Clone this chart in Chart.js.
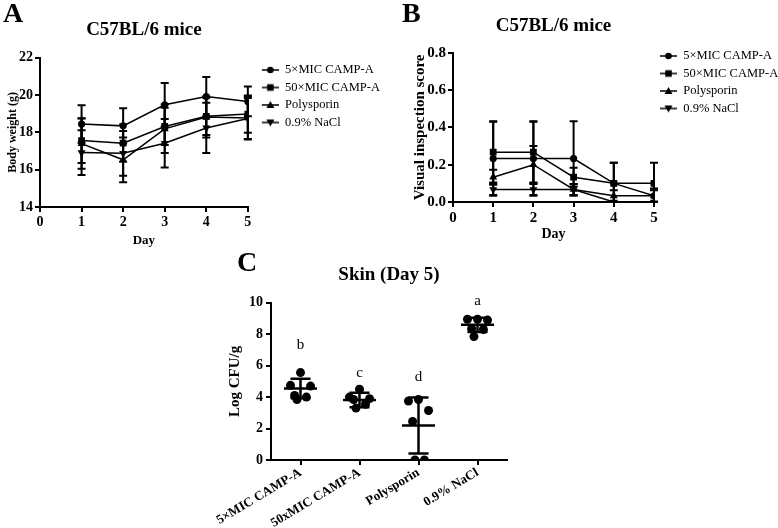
<!DOCTYPE html>
<html>
<head>
<meta charset="utf-8">
<script src="https://cdn.jsdelivr.net/npm/chart.js@4.4.0/dist/chart.umd.min.js"></script>
<style>
  body { margin: 0; background: #fff; }
  #fig { position: relative; width: 778px; height: 528px; overflow: hidden; }
  .panel { position: absolute; }
  .tag { position: absolute; font: bold 28px 'Liberation Serif', serif; color: #000; line-height: 32px; }
</style>
</head>
<body>
<div id="fig">
  <div class="panel" style="left:0;top:0;width:390px;height:255px"><canvas id="chartA"></canvas></div>
  <div class="panel" style="left:390px;top:0;width:388px;height:255px"><canvas id="chartB"></canvas></div>
  <div class="panel" style="left:180px;top:248px;width:340px;height:280px"><canvas id="chartC"></canvas></div>
  <div class="tag" style="left:3px;top:-3px">A</div>
  <div class="tag" style="left:402px;top:-3px">B</div>
  <div class="tag" style="left:237px;top:246px">C</div>
</div>
<script>
// ---- data ----
const days = [1, 2, 3, 4, 5];
const groups = ['5×MIC CAMP-A', '50×MIC CAMP-A', 'Polysporin', '0.9% NaCl'];
const skinTicks = ['5×MIC CAMP-A', '50xMIC CAMP-A', 'Polysporin', '0.9% NaCl'];

// A: body weight (g), mean and SD per day
const weight = [
  [18.45, 18.35, 19.48, 19.92, 19.66],
  [17.56, 17.42, 18.32, 18.86, 18.98],
  [17.40, 16.53, 18.19, 18.82, 18.77],
  [16.92, 16.88, 17.42, 18.24, 18.74]
];
const weightSd = [
  [1.00, 0.95, 1.17, 1.05, 0.80],
  [1.20, 1.00, 1.00, 1.00, 1.00],
  [1.35, 1.20, 1.30, 1.10, 1.15],
  [1.20, 1.20, 1.30, 1.35, 1.10]
];

// B: visual inspection score
const score = [
  [0.233, 0.233, 0.233, 0.100, 0.033],
  [0.267, 0.267, 0.133, 0.100, 0.100],
  [0.133, 0.200, 0.067, 0.033, 0.033],
  [0.067, 0.067, 0.067, 0.000, 0.000]
];
const scoreSd = [
  [0.200, 0.200, 0.200, 0.110, 0.040],
  [0.163, 0.163, 0.050, 0.110, 0.110],
  [0.040, 0.100, 0.030, 0.030, 0.030],
  [0.030, 0.030, 0.030, 0.000, 0.000]
];

// C: skin log CFU/g at day 5
const cfu = [
  [5.56, 4.75, 4.70, 4.10, 4.00, 3.85],
  [4.50, 4.00, 3.90, 3.85, 3.55, 3.30],
  [3.85, 3.75, 3.15, 2.45, 0.00, 0.00],
  [8.95, 8.95, 8.90, 8.35, 8.30, 7.85]
];
const cfuMean = [4.55, 3.82, 2.20, 8.60];
const cfuSd = [0.62, 0.46, 1.78, 0.45];
const sigLetters = ['b', 'c', 'd', 'a'];
const sigAt = [7.3, 5.5, 5.3, 10.1];
const swarm = [0, -0.17, 0.17, -0.1, 0.1, -0.06];

// ---- style ----
const serif = "'Liberation Serif', 'Times New Roman', serif";
Chart.defaults.font.family = serif;
Chart.defaults.color = '#000';
Chart.defaults.animation = false;

const markers = ['circle', 'rect', 'triangle', 'triangle'];
const turns = [0, 0, 0, 180];
const radii = [3.6, 4.8, 4.6, 4.6];

// legend symbol: short line with the series marker, drawn after an empty lead-in
function legendIcon(i, lead) {
  const c = document.createElement('canvas');
  c.width = lead + 17; c.height = 12;
  const g = c.getContext('2d');
  const m = lead + 8.5;
  g.strokeStyle = '#000'; g.fillStyle = '#000'; g.lineWidth = 1.5;
  g.beginPath(); g.moveTo(lead, 6); g.lineTo(lead + 17, 6); g.stroke();
  g.beginPath();
  if (i === 0) g.arc(m, 6, 3.3, 0, Math.PI * 2);
  else if (i === 1) g.rect(m - 3.3, 2.7, 6.6, 6.6);
  else if (i === 2) { g.moveTo(m, 2); g.lineTo(m + 4, 9); g.lineTo(m - 4, 9); g.closePath(); }
  else { g.moveTo(m, 10); g.lineTo(m + 4, 3); g.lineTo(m - 4, 3); g.closePath(); }
  g.fill();
  return c;
}

const errorBars = {
  id: 'errorBars',
  beforeDatasetsDraw(chart) {
    const { ctx, scales: { x, y } } = chart;
    ctx.save();
    ctx.strokeStyle = '#000';
    ctx.lineWidth = 2;
    chart.data.datasets.forEach(ds => {
      if (!ds.errors) return;
      ds.data.forEach((p, j) => {
        const e = ds.errors[j];
        if (!e) return;
        const px = x.getPixelForValue(p.x);
        const t = y.getPixelForValue(p.y + e);
        const b = y.getPixelForValue(Math.max(p.y - e, y.min));
        ctx.beginPath();
        ctx.moveTo(px, t); ctx.lineTo(px, b);
        ctx.moveTo(px - 4, t); ctx.lineTo(px + 4, t);
        ctx.moveTo(px - 4, b); ctx.lineTo(px + 4, b);
        ctx.stroke();
      });
    });
    ctx.restore();
  }
};

function lineSets(values, errs) {
  return groups.map((g, i) => ({
    label: g,
    data: days.map((d, j) => ({ x: d, y: values[i][j] })),
    errors: errs[i],
    borderColor: '#000',
    backgroundColor: '#000',
    borderWidth: 1.5,
    pointStyle: markers[i],
    pointRotation: turns[i],
    pointRadius: radii[i],
    pointBorderWidth: 0,
    pointBackgroundColor: '#000',
    tension: 0
  }));
}

function axisLook(extra) {
  return Object.assign({
    grid: { display: true, drawOnChartArea: false, drawTicks: true, tickLength: 5, color: '#000', lineWidth: 2 },
    border: { color: '#000', width: 2 }
  }, extra);
}

function legendOpts(width, lead, drop) {
  const icons = groups.map((g, i) => legendIcon(i, lead));
  return {
    position: 'right',
    align: 'start',
    maxWidth: width,
    title: { display: true, text: '', font: { size: 10 }, padding: { top: drop, bottom: 0 } },
    labels: {
      usePointStyle: true,
      pointStyleWidth: lead + 17,
      boxHeight: 12,
      padding: 5,
      font: { size: 12.5 },
      generateLabels(chart) {
        return chart.data.datasets.map((ds, i) => ({
          text: ds.label, pointStyle: icons[i], datasetIndex: i,
          fillStyle: '#000', strokeStyle: '#000', lineWidth: 0, fontColor: '#000', hidden: false
        }));
      }
    }
  };
}

// ---- A ----
new Chart(document.getElementById('chartA'), {
  type: 'line',
  data: { datasets: lineSets(weight, weightSd) },
  options: {
    maintainAspectRatio: false,
    layout: { padding: 0 },
    plugins: {
      legend: legendOpts(144, 9, 46.75),
      title: { display: true, text: 'C57BL/6 mice', fullSize: false, font: { size: 19, weight: 'bold' }, padding: { top: 19, bottom: 16 } },
      tooltip: { enabled: false }
    },
    scales: {
      x: axisLook({
        type: 'linear', min: 0, max: 5,
        ticks: { stepSize: 1, padding: 2, font: { size: 14, weight: 'bold' } },
        title: { display: true, text: 'Day', font: { size: 13, weight: 'bold' }, padding: { bottom: 7 } },
        afterFit: s => { s.height = 48; }
      }),
      y: axisLook({
        min: 14, max: 22,
        ticks: { stepSize: 2, padding: 2, font: { size: 14, weight: 'bold' } },
        title: { display: true, text: 'Body weight (g)', font: { size: 12, weight: 'bold' }, padding: { top: 6 } },
        afterFit: s => { s.width = 40; }
      })
    }
  },
  plugins: [errorBars]
});

// ---- B ----
new Chart(document.getElementById('chartB'), {
  type: 'line',
  data: { datasets: lineSets(score, scoreSd) },
  options: {
    maintainAspectRatio: false,
    layout: { padding: 0 },
    plugins: {
      legend: legendOpts(124, 1, 32.75),
      title: { display: true, text: 'C57BL/6 mice', fullSize: false, font: { size: 19, weight: 'bold' }, padding: { top: 15, bottom: 15 } },
      tooltip: { enabled: false }
    },
    scales: {
      x: axisLook({
        type: 'linear', min: 0, max: 5,
        ticks: { stepSize: 1, padding: 2, font: { size: 15, weight: 'bold' } },
        title: { display: true, text: 'Day', font: { size: 14, weight: 'bold' }, padding: { bottom: 12 } },
        afterFit: s => { s.height = 53; }
      }),
      y: axisLook({
        min: 0, max: 0.8,
        ticks: { stepSize: 0.2, padding: 2, font: { size: 15, weight: 'bold' }, callback: v => v.toFixed(1) },
        title: { display: true, text: 'Visual inspection score', font: { size: 15, weight: 'bold' }, padding: { top: 21 } },
        afterFit: s => { s.width = 63; }
      })
    }
  },
  plugins: [errorBars]
});

// ---- C ----
const meanSd = {
  id: 'meanSd',
  afterDatasetsDraw(chart) {
    const { ctx, scales: { x, y } } = chart;
    ctx.save();
    ctx.strokeStyle = '#000';
    ctx.lineWidth = 2.5;
    cfuMean.forEach((m, i) => {
      const cx = x.getPixelForValue(i);
      const half = x.getPixelForValue(i + 0.28) - cx;
      const cap = x.getPixelForValue(i + 0.17) - cx;
      const ym = y.getPixelForValue(m);
      const yt = y.getPixelForValue(m + cfuSd[i]);
      const yb = y.getPixelForValue(m - cfuSd[i]);
      ctx.beginPath();
      ctx.moveTo(cx - half, ym); ctx.lineTo(cx + half, ym);
      ctx.moveTo(cx, yt); ctx.lineTo(cx, yb);
      ctx.moveTo(cx - cap, yt); ctx.lineTo(cx + cap, yt);
      ctx.moveTo(cx - cap, yb); ctx.lineTo(cx + cap, yb);
      ctx.stroke();
    });
    ctx.fillStyle = '#000';
    ctx.font = '15px ' + serif;
    ctx.textAlign = 'center';
    ctx.textBaseline = 'middle';
    sigLetters.forEach((s, i) => {
      ctx.fillText(s, x.getPixelForValue(i), y.getPixelForValue(sigAt[i]));
    });
    ctx.restore();
  }
};

new Chart(document.getElementById('chartC'), {
  type: 'scatter',
  data: {
    datasets: groups.map((g, i) => ({
      label: g,
      data: cfu[i].map((v, j) => ({ x: i + swarm[j], y: v })),
      pointRadius: 4.5,
      pointBackgroundColor: '#000',
      pointBorderWidth: 0
    }))
  },
  options: {
    maintainAspectRatio: false,
    layout: { padding: { left: 0, right: 13, top: 0, bottom: 0 } },
    plugins: {
      legend: { display: false },
      title: { display: true, text: 'Skin (Day 5)', fullSize: false, font: { size: 19, weight: 'bold' }, padding: { top: 16, bottom: 16 } },
      tooltip: { enabled: false }
    },
    scales: {
      x: axisLook({
        type: 'linear', min: -0.5, max: 3.5,
        afterBuildTicks: s => { s.ticks = skinTicks.map((g, i) => ({ value: i })); },
        ticks: { autoSkip: false, minRotation: 31, maxRotation: 31, padding: 0, font: { size: 13, weight: 'bold' }, callback: v => skinTicks[v] },
        afterFit: s => { s.height = 68; }
      }),
      y: axisLook({
        min: 0, max: 10,
        ticks: { stepSize: 2, padding: 3, font: { size: 14, weight: 'bold' } },
        title: { display: true, text: 'Log CFU/g', font: { size: 15, weight: 'bold' }, padding: { top: 46 } },
        afterFit: s => { s.width = 91; }
      })
    }
  },
  plugins: [meanSd]
});
</script>
</body>
</html>
